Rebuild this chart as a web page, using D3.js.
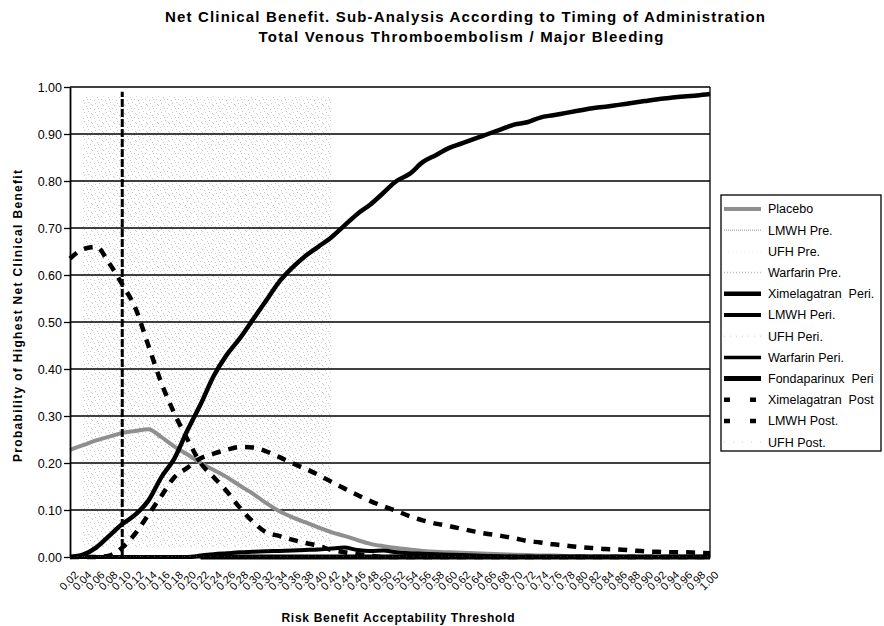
<!DOCTYPE html>
<html>
<head>
<meta charset="utf-8">
<script src="https://cdnjs.cloudflare.com/ajax/libs/d3/7.8.5/d3.min.js"></script>
<style>
    body { margin: 0; background: #fff; }
    svg { font-family: 'Liberation Sans', Arial, sans-serif; }
    .legend-text { white-space: pre; }
</style>
</head>
<body>
<div id="box-div"></div>
<script>
// x categories (risk benefit acceptability threshold)
const thresholds = ['0.02','0.04','0.06','0.08','0.10','0.12','0.14','0.16','0.18','0.20',
    '0.22','0.24','0.26','0.28','0.30','0.32','0.34','0.36','0.38','0.40',
    '0.42','0.44','0.46','0.48','0.50','0.52','0.54','0.56','0.58','0.60',
    '0.62','0.64','0.66','0.68','0.70','0.72','0.74','0.76','0.78','0.80',
    '0.82','0.84','0.86','0.88','0.90','0.92','0.94','0.96','0.98','1.00']

const yTicks = [0, 0.1, 0.2, 0.3, 0.4, 0.5, 0.6, 0.7, 0.8, 0.9, 1.0]

const placebo = [0.228,0.238,0.248,0.256,0.264,0.268,0.272,0.255,0.235,0.218,
    0.200,0.185,0.170,0.152,0.135,0.115,0.098,0.085,0.074,0.063,
    0.053,0.045,0.036,0.028,0.023,0.019,0.016,0.013,0.011,0.010,
    0.009,0.008,0.007,0.006,0.005,0.004,0.003,0.003,0.002,0.002,
    0.001,0.001,0.001,0.001,0,0,0,0,0,0]
const lmwhPre = [0,0,0,0,0,0,0,0,0,0, 0,0,0,0,0,0,0,0,0,0, 0,0,0,0,0,0,0,0,0,0, 0,0,0,0,0,0,0,0,0,0, 0,0,0,0,0,0,0,0,0,0]
const ufhPre = [0,0,0,0,0,0,0,0,0,0, 0,0,0,0,0,0,0,0,0,0, 0,0,0,0,0,0,0,0,0,0, 0,0,0,0,0,0,0,0,0,0, 0,0,0,0,0,0,0,0,0,0]
const warfarinPre = [0,0,0,0,0,0,0,0,0,0, 0,0,0,0,0,0,0,0,0,0, 0,0,0,0,0,0,0,0,0,0, 0,0,0,0,0,0,0,0,0,0, 0,0,0,0,0,0,0,0,0,0]
const ximelagatranPeri = [0.000,0.005,0.020,0.045,0.070,0.090,0.120,0.170,0.210,0.270,
    0.325,0.385,0.430,0.465,0.505,0.545,0.585,0.615,0.640,0.660,
    0.680,0.705,0.730,0.750,0.775,0.800,0.815,0.840,0.855,0.870,
    0.880,0.890,0.900,0.910,0.920,0.925,0.935,0.940,0.945,0.950,
    0.955,0.958,0.962,0.966,0.970,0.974,0.977,0.980,0.982,0.985]
const lmwhPeri = [0,0,0,0,0,0,0,0,0,0,
    0.003,0.006,0.008,0.010,0.011,0.012,0.013,0.014,0.015,0.016,
    0.018,0.020,0.015,0.013,0.014,0.010,0.008,0.007,0.006,0.005,
    0.004,0.003,0.002,0.001,0,0,0,0,0,0,
    0,0,0,0,0,0,0,0,0,0]
const ufhPeri = [0,0,0,0,0,0,0,0,0,0, 0,0,0,0,0,0,0,0,0,0, 0,0,0,0,0,0,0,0,0,0, 0,0,0,0,0,0,0,0,0,0, 0,0,0,0,0,0,0,0,0,0]
const warfarinPeri = [null,null,null,null,null,null,null,null,null,null, 0,0,0,0,0,0,0,0,0,0, 0,0,0,0,0,0,0,0,0,0, 0,0,0,0,0,0,0,0,0,0, 0,0,0,0,0,0,0,0,0,0]
const fondaparinuxPeri = [null,null,null,null,null,null,null,null,null,null, 0,0,0,0,0,0,0,0,0,0, 0,0,0,0,0,0,0,0,0,0, 0,0,0,0,0,0,0,0,0,0, 0,0,0,0,0,0,0,0,0,0]
const ximelagatranPost = [0.635,0.655,0.660,0.625,0.580,0.530,0.450,0.370,0.305,0.250,
    0.200,0.170,0.140,0.105,0.075,0.053,0.045,0.037,0.030,0.024,
    0.015,0.010,0.006,0.003,0,0,0,0,0,0,
    0,0,0,0,0,0,0,0,0,0,
    0,0,0,0,0,0,0,0,0,0]
const lmwhPost = [0,0,0,0.003,0.020,0.050,0.090,0.130,0.170,0.190,
    0.210,0.220,0.228,0.234,0.233,0.225,0.213,0.200,0.188,0.175,
    0.160,0.146,0.132,0.119,0.108,0.098,0.087,0.078,0.071,0.066,
    0.060,0.054,0.049,0.045,0.040,0.034,0.031,0.027,0.024,0.021,
    0.019,0.017,0.016,0.014,0.012,0.011,0.010,0.010,0.009,0.008]
const ufhPost = [0,0,0,0,0,0,0,0,0,0, 0,0,0,0,0,0,0,0,0,0, 0,0,0,0,0,0,0,0,0,0, 0,0,0,0,0,0,0,0,0,0, 0,0,0,0,0,0,0,0,0,0]

// vertical dashed marker line drawn in the original
const markerThreshold = '0.10'
const markerTop = 0.99

const seriesNames = ['Placebo', 'LMWH Pre.', 'UFH Pre.', 'Warfarin Pre.', 'Ximelagatran  Peri.',
    'LMWH Peri.', 'UFH Peri.', 'Warfarin Peri.', 'Fondaparinux  Peri', 'Ximelagatran  Post',
    'LMWH Post.', 'UFH Post.']
const seriesValues = [placebo, lmwhPre, ufhPre, warfarinPre, ximelagatranPeri, lmwhPeri,
    ufhPeri, warfarinPeri, fondaparinuxPeri, ximelagatranPost, lmwhPost, ufhPost]

// styles per series: stroke, width, dash in plot, dash in legend
const styles = [
    { c: '#8f8f8f', w: 4, d: null, ld: null },
    { c: '#b8b8b8', w: 1.5, d: '1,1', ld: '1,1' },
    { c: '#eeeeee', w: 1, d: '1,3', ld: '1,3' },
    { c: '#bdbdbd', w: 1.5, d: '1,2', ld: '1,2' },
    { c: '#000', w: 4.5, d: null, ld: null },
    { c: '#000', w: 4, d: null, ld: null },
    { c: '#c8c8c8', w: 1, d: '1,5', ld: '1,5' },
    { c: '#000', w: 3.5, d: null, ld: null },
    { c: '#000', w: 5, d: null, ld: null },
    { c: '#000', w: 4.5, d: '9,8', ld: '6,20' },
    { c: '#000', w: 4.5, d: '9,8', ld: '6,20' },
    { c: '#d0d0d0', w: 1, d: '1,6', ld: '1,8' }
]

let dms = {
    width: 884,
    height: 626,
    margin: { top: 87, right: 174, bottom: 69, left: 70 }
}
dms.chartWidth = dms.width - dms.margin.left - dms.margin.right
dms.chartHeight = dms.height - dms.margin.top - dms.margin.bottom

const box = d3.select('#box-div').append('svg')
    .attr('width', dms.width)
    .attr('height', dms.height)

const content = box.append('g')
    .attr('transform', `translate(${dms.margin.left}, ${dms.margin.top})`)

const xScale = d3.scalePoint()
    .domain(thresholds)
    .range([0, dms.chartWidth])

const yScale = d3.scaleLinear()
    .domain([0, 1])
    .range([dms.chartHeight, 0])

// scanner stipple of the printed original
const defs = box.append('defs')
const pat = defs.append('pattern')
    .attr('id', 'stipple')
    .attr('patternUnits', 'userSpaceOnUse')
    .attr('width', 11).attr('height', 9)
const dots = [[0,0],[5,1],[9,3],[2,4],[7,6],[3,7],[10,8],[6,3]]
pat.selectAll('rect').data(dots).join('rect')
    .attr('x', d => d[0]).attr('y', d => d[1])
    .attr('width', 1).attr('height', 1)
    .attr('fill', '#a8a8a8')

content.append('rect')
    .attr('x', xScale('0.04'))
    .attr('y', yScale(0.98))
    .attr('width', xScale('0.42') - xScale('0.04'))
    .attr('height', yScale(0.02) - yScale(0.98))
    .attr('fill', 'url(#stipple)')
    .attr('opacity', 0.6)

// grid lines
content.append('g')
    .selectAll('line')
    .data(yTicks.filter(d => d > 0))
    .join('line')
    .attr('x1', 0)
    .attr('x2', dms.chartWidth)
    .attr('y1', d => yScale(d))
    .attr('y2', d => yScale(d))
    .attr('stroke', '#000')
    .attr('stroke-width', 1.3)

content.append('line')
    .attr('x1', dms.chartWidth).attr('x2', dms.chartWidth)
    .attr('y1', 0).attr('y2', dms.chartHeight)
    .attr('stroke', '#000')
    .attr('stroke-width', 1.3)

const lineGen = d3.line()
    .defined(d => d.v !== null)
    .x(d => xScale(d.t))
    .y(d => yScale(d.v))
    .curve(d3.curveMonotoneX)

const lines = content.append('g')
seriesValues.forEach((vals, i) => {
    const s = styles[i]
    lines.append('path')
        .datum(vals.map((v, j) => ({ t: thresholds[j], v: v })))
        .attr('d', lineGen)
        .attr('fill', 'none')
        .attr('stroke', s.c)
        .attr('stroke-width', s.w)
        .attr('stroke-dasharray', s.d)
        .attr('stroke-linejoin', 'round')
})

content.append('line')
    .attr('x1', xScale(markerThreshold)).attr('x2', xScale(markerThreshold))
    .attr('y1', yScale(0)).attr('y2', yScale(markerTop))
    .attr('stroke', '#000')
    .attr('stroke-width', 3)
    .attr('stroke-dasharray', '8,2')

// axes
const yAxis = content.append('g')
    .call(d3.axisLeft(yScale).tickValues(yTicks).tickFormat(d3.format('.2f')).tickSize(6).tickSizeOuter(0))
yAxis.select('.domain').attr('stroke-width', 1.8)
yAxis.selectAll('.tick line').attr('stroke-width', 1.3)
yAxis.selectAll('text')
    .attr('font-size', 12.5)
    .attr('fill', '#000')
    .attr('x', -8)

const xAxis = content.append('g')
    .attr('transform', `translate(0, ${dms.chartHeight})`)
    .call(d3.axisBottom(xScale).tickSize(0).tickSizeOuter(0))
xAxis.select('.domain').attr('stroke-width', 1.8)
xAxis.selectAll('text')
    .attr('font-size', 11)
    .attr('fill', '#000')
    .attr('text-anchor', 'end')
    .attr('x', 0).attr('y', 0).attr('dy', '0.35em')
    .attr('transform', 'translate(6, 16) rotate(-45)')

// titles
box.append('text')
    .attr('x', 465).attr('y', 22)
    .attr('text-anchor', 'middle')
    .attr('font-size', 15).attr('font-weight', 'bold')
    .attr('textLength', 600).attr('lengthAdjust', 'spacing')
    .text('Net Clinical Benefit. Sub-Analysis According to Timing of Administration')
box.append('text')
    .attr('x', 461).attr('y', 42)
    .attr('text-anchor', 'middle')
    .attr('font-size', 15).attr('font-weight', 'bold')
    .attr('textLength', 405).attr('lengthAdjust', 'spacing')
    .text('Total Venous Thromboembolism / Major Bleeding')

box.append('text')
    .attr('transform', 'translate(22, 316) rotate(-90)')
    .attr('text-anchor', 'middle')
    .attr('font-size', 12).attr('font-weight', 'bold')
    .attr('textLength', 292).attr('lengthAdjust', 'spacing')
    .text('Probability of Highest Net Clinical Benefit')

box.append('text')
    .attr('x', 398).attr('y', 622)
    .attr('text-anchor', 'middle')
    .attr('font-size', 12).attr('font-weight', 'bold')
    .attr('textLength', 233).attr('lengthAdjust', 'spacing')
    .text('Risk Benefit Acceptability  Threshold')

// legend
const legend = box.append('g')
    .attr('transform', 'translate(721, 195)')
legend.append('rect')
    .attr('width', 160).attr('height', 256)
    .attr('fill', '#fff')
    .attr('stroke', '#000')
    .attr('stroke-width', 1.3)

const items = legend.selectAll('g.item')
    .data(seriesNames)
    .join('g')
    .attr('class', 'item')
    .attr('transform', (d, i) => `translate(0, ${14 + i * 21.2})`)
items.append('line')
    .attr('x1', 3).attr('x2', 40)
    .attr('stroke', (d, i) => styles[i].c)
    .attr('stroke-width', (d, i) => styles[i].w)
    .attr('stroke-dasharray', (d, i) => styles[i].ld)
items.append('text')
    .attr('class', 'legend-text')
    .attr('x', 47)
    .attr('dy', '0.35em')
    .attr('font-size', 12.5)
    .attr('fill', '#000')
    .text(d => d)
</script>
</body>
</html>
